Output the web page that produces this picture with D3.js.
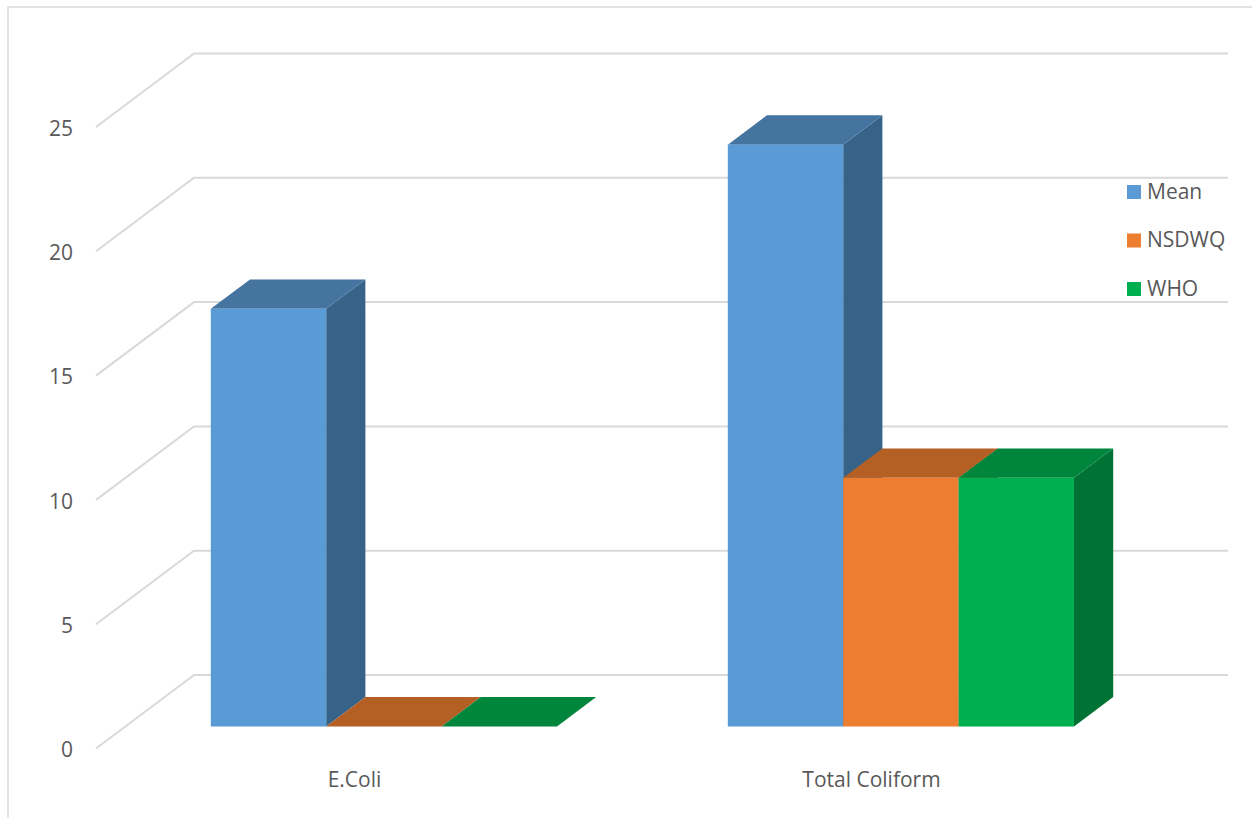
<!DOCTYPE html>
<html>
<head>
<meta charset="utf-8">
<script src="https://cdn.jsdelivr.net/npm/d3@7"></script>
<style>
  html, body { margin: 0; padding: 0; background: #fff; }
  svg { display: block; font-family: "Open Sans", "Liberation Sans", sans-serif; }
</style>
</head>
<body>
<svg id="chart" width="1252" height="818"></svg>
<script>
// Categories, series and axis ticks
const categories = ["E.Coli", "Total Coliform"];
const seriesNames = ["Mean", "NSDWQ", "WHO"];
const meanValues = [16.8, 23.4];
const nsdwqValues = [0, 10];
const whoValues = [0, 10];
const yTicks = [0, 5, 10, 15, 20, 25];

const seriesValues = [meanValues, nsdwqValues, whoValues];
// front / top / side shading for each series
const faceColors = [
  { front: "#5B9BD5", top: "#44749F", side: "#376389" },
  { front: "#ED7D31", top: "#B45F23", side: "#9C5020" },
  { front: "#00B050", top: "#00853D", side: "#007233" }
];

const svg = d3.select("#chart");

// Chart frame
svg.append("rect")
  .attr("x", 8).attr("y", 7)
  .attr("width", 1260).attr("height", 830)
  .attr("fill", "#fff").attr("stroke", "#d9d9d9").attr("stroke-width", 1.5);

// Oblique projection: depth runs up and to the right
const depthDX = 98, depthDY = -73.5;
const frontLeft = 96, frontRight = 1130;

const y = d3.scaleLinear().domain([0, 25]).range([748.5, 127]);
const x = d3.scaleBand().domain(categories).range([frontLeft, frontRight]).paddingInner(0).paddingOuter(0);

// Project (xFront, value, depth fraction) to screen
const P = (px, v, d) => [px + depthDX * d, y(v) + depthDY * d];

// Gridlines: side-wall diagonal then back-wall horizontal
const grid = svg.append("g").attr("fill", "none").attr("stroke", "#d9d9d9").attr("stroke-width", 2);
yTicks.forEach(t => {
  const a = P(frontLeft, t, 0), b = P(frontLeft, t, 1), c = P(frontRight, t, 1);
  grid.append("path").attr("d", d3.line()([a, b, c]));
});

// Tick labels
svg.append("g").selectAll("text").data(yTicks).join("text")
  .attr("x", 73).attr("y", d => y(d) + 3)
  .attr("text-anchor", "end").attr("dominant-baseline", "middle")
  .attr("font-size", 21).attr("fill", "#595959")
  .text(d => d);

// Bars
const gapRatio = 1.48;
const barW = x.bandwidth() / (seriesNames.length + gapRatio);
const d0 = 0.3, d1 = 0.7;
const poly = pts => "M" + pts.map(p => p.join(",")).join("L") + "Z";

const barsG = svg.append("g");
categories.forEach((cat, ci) => {
  const groupStart = x(cat) + (x.bandwidth() - barW * seriesNames.length) / 2;
  seriesValues.forEach((vals, si) => {
    const v = vals[ci];
    const xl = groupStart + si * barW, xr = xl + barW;
    const col = faceColors[si];
    const g = barsG.append("g");
    // right side face
    g.append("path").attr("fill", col.side)
      .attr("d", poly([P(xr, 0, d0), P(xr, 0, d1), P(xr, v, d1), P(xr, v, d0)]));
    // top face
    g.append("path").attr("fill", col.top)
      .attr("d", poly([P(xl, v, d0), P(xr, v, d0), P(xr, v, d1), P(xl, v, d1)]));
    // front face
    if (v > 0) {
      g.append("path").attr("fill", col.front)
        .attr("d", poly([P(xl, 0, d0), P(xr, 0, d0), P(xr, v, d0), P(xl, v, d0)]));
    }
  });
});

// Category labels
svg.append("g").selectAll("text").data(categories).join("text")
  .attr("x", d => x(d) + x.bandwidth() / 2).attr("y", 781)
  .attr("text-anchor", "middle").attr("dominant-baseline", "middle")
  .attr("font-size", 21).attr("fill", "#595959")
  .text(d => d);

// Legend
const legend = svg.append("g").attr("transform", "translate(1127,192)");
seriesNames.forEach((name, i) => {
  const row = legend.append("g").attr("transform", `translate(0,${i * 48.5})`);
  row.append("rect").attr("x", 0).attr("y", -7).attr("width", 14).attr("height", 14)
    .attr("fill", faceColors[i].front);
  row.append("text").attr("x", 20).attr("y", 1)
    .attr("dominant-baseline", "middle")
    .attr("font-size", 21).attr("fill", "#595959").text(name);
});
</script>
</body>
</html>
